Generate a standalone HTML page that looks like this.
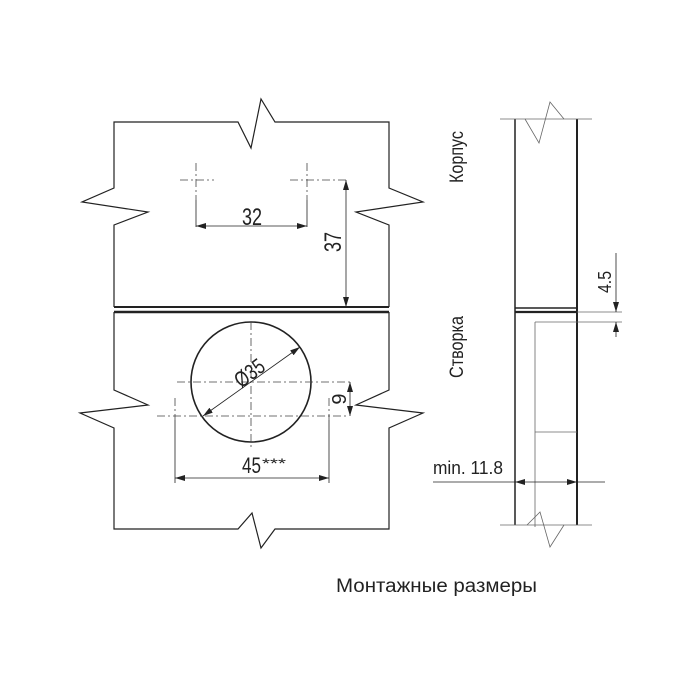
<!DOCTYPE html>
<html><head><meta charset="utf-8"><style>body{margin:0;background:#fff}svg{display:block}text{font-family:"Liberation Sans Narrow","Liberation Sans",sans-serif;fill:#222}</style></head><body>
<svg width="700" height="700" viewBox="0 0 700 700" xmlns="http://www.w3.org/2000/svg">
<defs>
<marker id="a" viewBox="0 0 10 6" refX="10" refY="3" markerWidth="10" markerHeight="6" markerUnits="userSpaceOnUse" orient="auto-start-reverse"><path d="M0,0L10,3L0,6z" fill="#222"/></marker>
</defs>
<g fill="none" stroke="#222" stroke-width="1.2">
<path d="M114,307 L114,225 L148,212 L82,202 L114,188 L114,122 L238,122 L251,148 L261,99 L275,122 L389,122 L389,188 L423,202 L356,212 L389,225 L389,307"/>
<line x1="114" y1="307" x2="389" y2="307" stroke-width="2"/>
<line x1="114" y1="312" x2="389" y2="312" stroke-width="2.4"/>
<path d="M114,312 L114,390 L148,405 L80,413 L114,428 L114,529 L238,529 L252,513 L261,548 L275,529 L389,529 L389,428 L423,413 L356,405 L389,390 L389,312"/>
<circle cx="251" cy="382" r="60" stroke-width="1.6"/>
</g>
<g fill="none" stroke="#444" stroke-width="0.8" stroke-dasharray="8,3,2,3">
<line x1="196" y1="163" x2="196" y2="200"/><line x1="180" y1="180" x2="214" y2="180"/>
<line x1="307" y1="163" x2="307" y2="200"/><line x1="290" y1="180" x2="347" y2="180"/>
<line x1="251" y1="322" x2="251" y2="447"/><line x1="177" y1="382" x2="353" y2="382"/>
<line x1="157" y1="416" x2="347" y2="416"/>
<line x1="175" y1="398" x2="175" y2="420"/><line x1="329" y1="398" x2="329" y2="420"/>
</g>
<g fill="none" stroke="#222" stroke-width="0.8">
<line x1="196" y1="200" x2="196" y2="227"/><line x1="307" y1="200" x2="307" y2="227"/>
<line x1="196" y1="226" x2="307" y2="226" marker-start="url(#a)" marker-end="url(#a)"/>
<line x1="346" y1="180" x2="346" y2="307" marker-start="url(#a)" marker-end="url(#a)"/>
<line x1="175" y1="420" x2="175" y2="483"/><line x1="329" y1="420" x2="329" y2="483"/>
<line x1="175" y1="478" x2="329" y2="478" marker-start="url(#a)" marker-end="url(#a)"/>
<line x1="350" y1="382" x2="350" y2="416" marker-start="url(#a)" marker-end="url(#a)"/>
<line x1="203" y1="416" x2="300" y2="347" marker-start="url(#a)" marker-end="url(#a)"/>
</g>
<text x="242" y="225" font-size="24" textLength="20" lengthAdjust="spacingAndGlyphs">32</text>
<text transform="translate(341,242) rotate(-90)" font-size="24" text-anchor="middle" textLength="20" lengthAdjust="spacingAndGlyphs">37</text>
<text transform="translate(346,399) rotate(-90)" font-size="20" text-anchor="middle">9</text>
<text transform="translate(254,379) rotate(-37)" font-size="22" text-anchor="middle" textLength="32" lengthAdjust="spacingAndGlyphs">Ø35</text>
<text x="242" y="473" font-size="22" textLength="19" lengthAdjust="spacingAndGlyphs">45</text>
<text x="262" y="468" font-size="14" fill="#666" textLength="24" lengthAdjust="spacingAndGlyphs">***</text>
<g fill="none" stroke="#222" stroke-width="1.5">
<line x1="515" y1="119" x2="515" y2="525"/>
<line x1="577" y1="119" x2="577" y2="525" stroke-width="2"/>
<line x1="515" y1="308" x2="577" y2="308"/>
<line x1="515" y1="312" x2="577" y2="312" stroke-width="2.2"/>
</g>
<g fill="none" stroke="#666" stroke-width="0.8">
<line x1="500" y1="119" x2="592" y2="119"/>
<line x1="500" y1="525" x2="592" y2="525"/>
<path d="M525,119 L539,143 L550,102 L564,119"/>
<path d="M527,525 L540,512 L550,547 L564,525"/>
<line x1="535" y1="322" x2="535" y2="527"/>
<line x1="535" y1="322" x2="622" y2="322"/>
<line x1="577" y1="312" x2="622" y2="312"/>
<line x1="535" y1="432" x2="577" y2="432"/>
</g>
<g stroke="#222" stroke-width="0.8" fill="none">
<line x1="616" y1="253" x2="616" y2="312" marker-end="url(#a)"/>
<line x1="616" y1="337" x2="616" y2="322" marker-end="url(#a)"/>
<line x1="433" y1="482" x2="515" y2="482"/>
<line x1="515" y1="482" x2="577" y2="482" marker-start="url(#a)" marker-end="url(#a)"/>
<line x1="577" y1="482" x2="605" y2="482"/>
</g>
<text transform="translate(611,282) rotate(-90)" font-size="18" text-anchor="middle" textLength="22" lengthAdjust="spacingAndGlyphs">4.5</text>
<text x="433" y="474" font-size="18" textLength="70" lengthAdjust="spacingAndGlyphs">min. 11.8</text>
<text transform="translate(463,157) rotate(-90)" font-size="19" text-anchor="middle" textLength="52" lengthAdjust="spacingAndGlyphs">Корпус</text>
<text transform="translate(463,347) rotate(-90)" font-size="19" text-anchor="middle" textLength="62" lengthAdjust="spacingAndGlyphs">Створка</text>
<text x="336" y="592" font-size="19" textLength="201" lengthAdjust="spacingAndGlyphs">Монтажные размеры</text>
</svg>
</body></html>
